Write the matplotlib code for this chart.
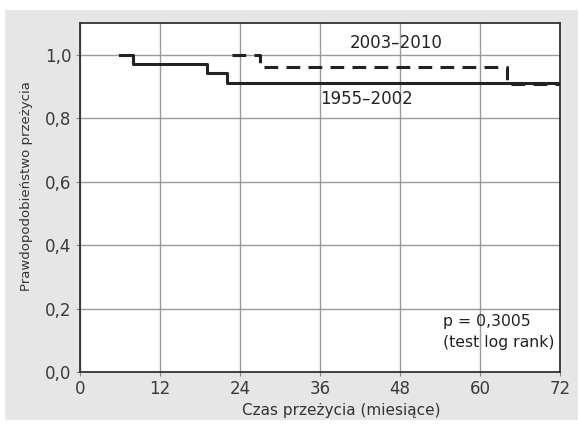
import matplotlib
matplotlib.use("Agg")
import matplotlib.pyplot as plt
from matplotlib.patches import Rectangle

# Kaplan-Meier curves
t_old = [6, 8, 19, 22, 72]
s_old = [1.0, 0.970, 0.943, 0.912, 0.912]
t_new = [22.75, 27, 64, 72]
s_new = [1.0, 0.960, 0.907, 0.907]

xticks = [0, 12, 24, 36, 48, 60, 72]
yticks = [0.0, 0.2, 0.4, 0.6, 0.8, 1.0]
ytick_labels = ["0,0", "0,2", "0,4", "0,6", "0,8", "1,0"]

plt.rcParams['font.family'] = ['DejaVu Sans']

fig = plt.figure(figsize=(5.79, 4.30), dpi=100)
fig.patch.set_facecolor("white")
fig.patches.append(Rectangle((5 / 579, 10 / 430), 573 / 579, 410 / 430,
                             transform=fig.transFigure, facecolor="#e6e6e6",
                             edgecolor="none", zorder=-10))

ax = fig.add_axes([80 / 579, 58 / 430, 480 / 579, 349 / 430])
ax.set_facecolor("white")

ax.step(t_old, s_old, where="post", color="#222222", lw=2.2, zorder=3)
ax.step(t_new, s_new, where="post", color="#222222", lw=2.2,
        dashes=(4.5, 2.7), zorder=3)

ax.set_xlim(0, 72)
ax.set_ylim(0, 1.1)
ax.set_xticks(xticks)
ax.set_yticks(yticks)
ax.set_yticklabels(ytick_labels)
ax.tick_params(direction="out", length=3, color="#888888", labelsize=12,
               labelcolor="#3a3a3a", pad=3)
ax.grid(True, color="#999999", lw=1)
ax.set_axisbelow(True)
for sp in ax.spines.values():
    sp.set_color("#333333")
    sp.set_linewidth(1.3)

ax.set_xlabel("Czas przeżycia (miesiące)", fontsize=11, color="#333333")
ax.xaxis.set_label_coords(0.544, -0.088)
ax.set_ylabel("Prawdopodobieństwo przeżycia", fontsize=9.5, color="#333333")
ax.yaxis.set_label_coords(-0.098, 0.533)

ax.text(47.4, 1.036, "2003–2010", fontsize=12, color="#222222",
        ha="center", va="center")
ax.text(43.0, 0.861, "1955–2002", fontsize=12, color="#222222",
        ha="center", va="center")
ax.text(54.45, 0.126, "p = 0,3005\n(test log rank)", fontsize=11.3,
        color="#222222", ha="left", va="center", linespacing=1.45)

fig.savefig("out.png", dpi=100)
